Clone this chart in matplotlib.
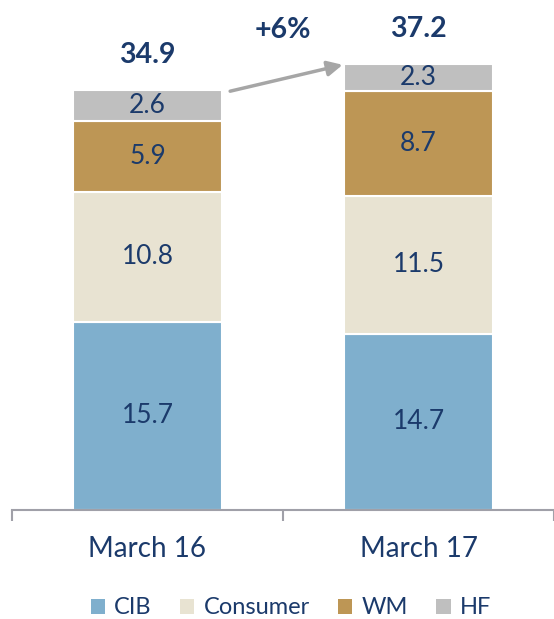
import matplotlib
matplotlib.use("Agg")
import matplotlib.pyplot as plt
from matplotlib.patches import Patch
import numpy as np

categories = ["March 16", "March 17"]
series_names = ["CIB", "Consumer", "WM", "HF"]
cib = [15.7, 14.7]
consumer = [10.8, 11.5]
wm = [5.9, 8.7]
hf = [2.6, 2.3]
totals = [34.9, 37.2]
growth_label = "+6%"

colors = ["#7fafcd", "#e8e3d2", "#bd9655", "#bfbfbf"]
navy = "#1b3a6b"
plt.rcParams['font.family'] = ['Lato', 'DejaVu Sans']

W, H = 554, 619
fig = plt.figure(figsize=(W / 100, H / 100), dpi=100)
ax_left, ax_right = 12, 554
ax_bottom, ax_top = 510, 0
ax = fig.add_axes([ax_left / W, 1 - ax_bottom / H, (ax_right - ax_left) / W, (ax_bottom - ax_top) / H])

cat_px = 273.0
ax.set_xlim(-0.5, -0.5 + (ax_right - ax_left) / cat_px)
ax.set_ylim(0, (ax_bottom - ax_top) / 12.0)

bw = 0.55
x = np.arange(len(categories))
bottom = np.zeros(len(categories))
for name, vals, c in zip(series_names, [cib, consumer, wm, hf], colors):
    vals = np.array(vals)
    ax.bar(x, vals, bottom=bottom, width=bw, color=c, edgecolor="white", linewidth=1.5, label=name)
    for xi, b, v in zip(x, bottom, vals):
        ax.text(xi, b + v / 2, f"{v:.1f}", ha="center", va="center", fontsize=19, color=navy)
    bottom += vals

for xi, t, top in zip(x, totals, bottom):
    ax.text(xi, top + 2.9, f"{t:.1f}", ha="center", va="center", fontsize=20.5, fontweight="bold", color=navy)

# growth arrow
ax.annotate("", xy=(x[1] - bw / 2 - 0.005, bottom[1] - 0.1), xytext=(x[0] + bw / 2 + 0.03, bottom[0] - 0.1),
            arrowprops=dict(arrowstyle="-|>,head_length=0.9,head_width=0.45", color="#a6a6a6", lw=2.5,
                            shrinkA=0, shrinkB=0))
ax.text(0.5, bottom[1] + 2.8, growth_label, ha="center", va="center", fontsize=20.5, fontweight="bold", color=navy)

for s in ["top", "right", "left"]:
    ax.spines[s].set_visible(False)
ax.spines["bottom"].set_color("#a0a0a8")
ax.spines["bottom"].set_linewidth(1.5)
ax.set_yticks([])
ax.set_xticks(x)
ax.set_xticklabels(categories, fontsize=20, color=navy)
ax.tick_params(axis="x", which="major", length=0, pad=19)
ax.set_xticks([-0.5, 0.5, 1.5], minor=True)
ax.tick_params(axis="x", which="minor", length=8, width=1.5, color="#a0a0a8", direction="out")

handles = [Patch(facecolor=c, edgecolor="none") for c in colors]
fig.legend(handles, series_names, loc="center", bbox_to_anchor=(291 / W, 1 - 608 / H), ncol=4,
           frameon=False, fontsize=17, labelcolor=navy, handlelength=0.6, handleheight=0.6,
           handletextpad=0.4, columnspacing=1.2)

fig.savefig("out.png", dpi=100)
